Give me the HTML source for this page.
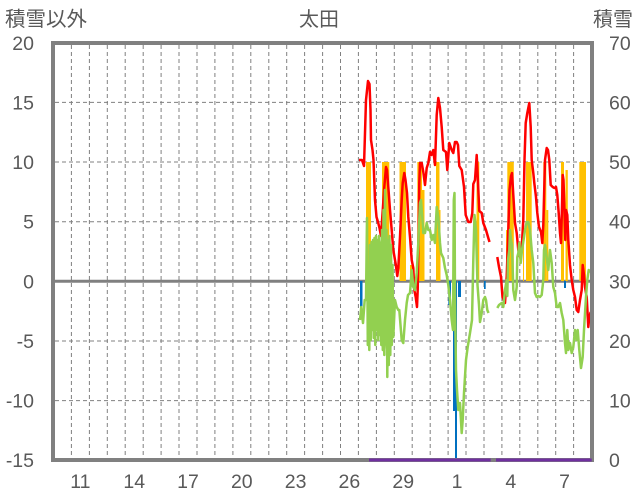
<!DOCTYPE html>
<html><head><meta charset="utf-8"><style>
html,body{margin:0;padding:0;background:#fff;}
svg{display:block;}
text{font-family:"Liberation Sans","Noto Sans CJK JP",sans-serif;fill:#595959;}
</style></head><body>
<svg width="636" height="501" viewBox="0 0 636 501" xmlns="http://www.w3.org/2000/svg">
<rect width="636" height="501" fill="#fff"/>
<g stroke="#808080" stroke-width="1" stroke-dasharray="4 3" fill="none">
<path d="M71.4 45V458M89.4 45V458M107.3 45V458M125.2 45V458M143.2 45V458M161.1 45V458M179.0 45V458M197.0 45V458M214.9 45V458M232.9 45V458M250.8 45V458M268.8 45V458M286.7 45V458M304.6 45V458M322.6 45V458M340.5 45V458M358.4 45V458M376.4 45V458M394.3 45V458M412.2 45V458M430.2 45V458M448.1 45V458M466.0 45V458M484.0 45V458M501.9 45V458M519.8 45V458M537.8 45V458M555.7 45V458M573.6 45V458"/>
<path d="M55 102.4H590M55 162H590M55 221.7H590M55 341H590M55 400.6H590"/>
</g>
<line x1="53" y1="281.3" x2="592" y2="281.3" stroke="#808080" stroke-width="3"/>
<g fill="#FFC000">
<rect x="366" y="162" width="5" height="119"/>
<rect x="382" y="162" width="7.3" height="119"/>
<rect x="399.5" y="162" width="6.5" height="119"/>
<rect x="410" y="265" width="3" height="16"/>
<rect x="417.3" y="162" width="4.7" height="119"/>
<rect x="422" y="190" width="2.5" height="91"/>
<rect x="436" y="162" width="3.5" height="119"/>
<rect x="439.5" y="210" width="1" height="71"/>
<rect x="476.5" y="162" width="2.8" height="119"/>
<rect x="506" y="230" width="1.3" height="51"/>
<rect x="507.3" y="162" width="6.5" height="119"/>
<rect x="523" y="197" width="1" height="84"/>
<rect x="526" y="162" width="5.7" height="119"/>
<rect x="543.3" y="162" width="3" height="119"/>
<rect x="546.3" y="210" width="2" height="71"/>
<rect x="561" y="162" width="3" height="119"/>
<rect x="565.5" y="170" width="2.3" height="111"/>
<rect x="579.3" y="162" width="6.7" height="119"/>
</g>
<g fill="#0070C0">
<rect x="360" y="281" width="2.5" height="31"/>
<rect x="448.3" y="281" width="2.7" height="24"/>
<rect x="453" y="281" width="2" height="130"/>
<rect x="455" y="281" width="2" height="179"/>
<rect x="458" y="281" width="3" height="16"/>
<rect x="472.5" y="281" width="1.5" height="6"/>
<rect x="484" y="281" width="1.7" height="8"/>
<rect x="564" y="281" width="2" height="7"/>
</g>
<g fill="none" stroke="#FF0000" stroke-width="2.5" stroke-linejoin="round">
<polyline points="359,160 362,160 364,166 366,100 368,81 369.5,84 370.5,110 371,140 372.5,150 373.5,160 375,200 376.5,217 378,222 379.5,228 381,236 382.3,217 384.3,187 386,167 387,170 388.3,187 390,210 391.7,230 393.3,250 395.7,264 397.3,276 398.3,268 400,237 401.7,200 402.7,183 404.3,173 405.5,180 407,193 408.3,217 410,237 411.7,260 413.3,268 414.3,290 415.7,297 417,307 417.7,290 418.3,250 419.3,183 420,163 421.7,163 423.3,172 425,185 426.7,168 428.3,163 430,152 431.5,155 433.3,150 435,165 436.7,115 438.3,98 440,108 441.7,127 443.3,150 446,152 447.3,170 449.3,143 451.7,150 453.3,153 455,142 456.7,142 458,145 459.3,166 461.7,170 464,187 465.7,215 468.3,222 470.7,222 472.3,213 473.3,184 475,180 476.7,155 477.7,176 479.3,211 481.7,213 483.3,223 486,230 488.3,238 489.5,242"/>
<polyline points="497.3,257 499,267 501,277 502.5,297 505,303 506.7,277 508.3,230 509.5,190 511,176 512,173 513.3,195 515,223 516.7,233 518.3,250 520,257 521.7,248 523.3,220 524.5,160 525.7,123 527.3,113 529.3,103 530.7,127 531.7,160 533.3,173 534.3,183 536,197 537.3,213 539,227 541,232 542.3,243 543.3,225 545,160 546.7,148 548,150 549.3,160 550.7,185 552.7,187 554.5,188 556,187 557.3,195 558.7,213 560,233 561,243 562,207 562.7,175 563.5,180 564,195 565.3,240 566,210 567.3,215 568.3,240 570,265 571.7,280 573.3,290 575,297 576.7,310 578.3,312 580,300 581.7,290 582.7,265 584,275 585,287 586.7,297 588.3,327 589.3,317 590.7,312"/>
</g>
<polygon fill="#92D050" points="369,250 372,242 376,240 380,242 383,235 385,215 387,240 390,245 391.5,255 391.5,320 389,345 387,360 385,340 382,335 379,325 375,330 372,325 369,335"/>
<g fill="none" stroke="#92D050" stroke-width="2.5" stroke-linejoin="round">
<polyline points="360,320 361.3,307 363,323 364.7,300 366,300 367,218 367.8,345 368.5,300 369.3,350 370,245 370.8,340 371.5,242 372.3,330 373,240 373.8,338 374.5,238 375.3,345 376,236 376.8,330 377.5,240 378.3,340 379,236 379.8,335 380.5,250 381.3,345 382,230 382.8,350 383.5,210 384.3,355 385,190 385.8,340 386.5,230 387.3,377 388,240 388.8,365 389.5,236 390.3,355 391,245 391.8,345 392.5,265 393.3,337 395,300 396.7,307 398.3,310 399.3,310 401.7,340 403.3,343 405,320 406.7,303 408,295 410,293 411.7,270 413.3,287 415,290 416.7,273 418.3,243 420,203 421,200 422.3,217 423.3,233 425,233 426.7,223 428.3,230 430,230 431.7,240 433.3,235 435,243 436.7,207 438.3,217 440,243 441,253 443.3,258 445,268 446.7,275 448.3,285 450,300 451.7,320 453,330 453.8,200 454.5,193 455,300 456,370 457,390 458.3,410 460,403 461.7,433 462.7,420 464,393 466,360 467.7,347 470,333 472,320 473.3,260 474.5,215 476,230 477.5,285 479,305 480,322 481.7,313 483.3,300 485,297 486,300 487.3,310 488.5,313"/>
<polyline points="497.3,308 499,305 501.7,303 503.3,307 505,290 506.7,280 507.3,296 508,260 509.3,250 510,230 511,240 512,245 513.3,290 515,300 516.7,287 517.3,257 518.3,253 519.3,243 520.7,263 522,250 524,237 525,230 526.7,222 528.3,222 530,230 531.7,250 533.3,263 535,293 536.7,297 538.5,296 540,297 541.7,295 543.3,280 544,250 545,245 546.7,258 548.3,270 550,250 551.7,263 553.3,287 555,293 556.7,307 558.3,307 560,303 561.7,313 563.3,320 565,343 566,353 567.3,330 568.3,350 570,343 571.7,353 573.3,347 575,330 576.7,340 577.7,330 579.3,350 581,368 582.7,357 584,330 586,297 587.3,280 588.7,270 590.7,272"/>
</g>
<rect x="53" y="43" width="539" height="417" fill="none" stroke="#808080" stroke-width="4"/>
<g stroke="#7030A0" stroke-width="3">
<line x1="369" y1="460" x2="490.7" y2="460"/>
<line x1="496" y1="460" x2="591.7" y2="460"/>
</g>
<g font-size="19.5" text-anchor="end">
<text x="34" y="50">20</text>
<text x="34" y="109.4">15</text>
<text x="34" y="169">10</text>
<text x="34" y="228.7">5</text>
<text x="34" y="288.3">0</text>
<text x="34" y="348">-5</text>
<text x="34" y="407.6">-10</text>
<text x="34" y="467">-15</text>
</g>
<g font-size="19.5" text-anchor="start">
<text x="609" y="50">70</text>
<text x="609" y="109.4">60</text>
<text x="609" y="169">50</text>
<text x="609" y="228.7">40</text>
<text x="609" y="288.3">30</text>
<text x="609" y="348">20</text>
<text x="609" y="407.6">10</text>
<text x="609" y="467">0</text>
</g>
<g font-size="19.5" text-anchor="middle">
<text x="80.4" y="488">11</text>
<text x="134.2" y="488">14</text>
<text x="188" y="488">17</text>
<text x="241.8" y="488">20</text>
<text x="295.6" y="488">23</text>
<text x="349.4" y="488">26</text>
<text x="403.2" y="488">29</text>
<text x="457" y="488">1</text>
<text x="510.8" y="488">4</text>
<text x="564.6" y="488">7</text>
</g>
<text x="5" y="26" font-size="20.5">積雪以外</text>
<text x="319" y="26" font-size="20" text-anchor="middle">太田</text>
<text x="593" y="26" font-size="20">積雪</text>
</svg>
</body></html>
